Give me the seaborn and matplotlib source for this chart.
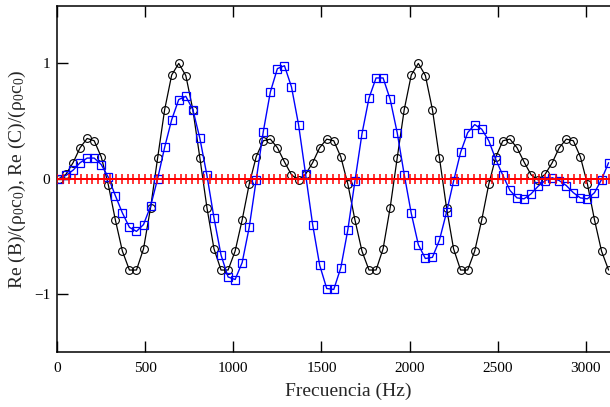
import matplotlib
matplotlib.use("Agg")
import matplotlib.pyplot as plt
import seaborn as sns

# Frequency grid of the black and blue series (Hz)
freq = [10, 50, 90, 130, 170, 210, 250, 290, 330, 370,
        410, 450, 490, 530, 570, 610, 650, 690, 730, 770,
        810, 850, 890, 930, 970, 1010, 1050, 1090, 1130, 1170,
        1210, 1250, 1290, 1330, 1370, 1410, 1450, 1490, 1530, 1570,
        1610, 1650, 1690, 1730, 1770, 1810, 1850, 1890, 1930, 1970,
        2010, 2050, 2090, 2130, 2170, 2210, 2250, 2290, 2330, 2370,
        2410, 2450, 2490, 2530, 2570, 2610, 2650, 2690, 2730, 2770,
        2810, 2850, 2890, 2930, 2970, 3010, 3050, 3090, 3130]

# Re(B)/(rho0 c0)  (black circles)
re_b = [0.00, 0.04, 0.14, 0.27, 0.35, 0.33, 0.19, -0.05, -0.355, -0.626,
        -0.79, -0.79, -0.606, -0.25, 0.18, 0.60, 0.90, 1.00, 0.895, 0.60,
        0.18, -0.25, -0.606, -0.79, -0.79, -0.626, -0.355, -0.046, 0.193, 0.33,
        0.344, 0.27, 0.147, 0.035, -0.01, 0.04, 0.14, 0.27, 0.344, 0.33,
        0.19, -0.046, -0.355, -0.626, -0.79, -0.79, -0.606, -0.25, 0.18, 0.60,
        0.90, 1.00, 0.895, 0.60, 0.18, -0.25, -0.606, -0.79, -0.79, -0.626,
        -0.355, -0.046, 0.19, 0.33, 0.344, 0.27, 0.147, 0.035, -0.01, 0.04,
        0.14, 0.27, 0.344, 0.33, 0.19, -0.046, -0.355, -0.626, -0.79]

# Re(C)/(rho0 c0)  (blue squares)
re_c = [0.00, 0.03, 0.075, 0.14, 0.18, 0.18, 0.124, 0.014, -0.145, -0.295,
        -0.42, -0.455, -0.396, -0.237, 0.00, 0.274, 0.513, 0.687, 0.715, 0.60,
        0.35, 0.03, -0.338, -0.66, -0.85, -0.872, -0.725, -0.42, -0.006, 0.41,
        0.753, 0.955, 0.98, 0.796, 0.47, 0.04, -0.396, -0.748, -0.95, -0.958,
        -0.77, -0.44, -0.02, 0.39, 0.70, 0.874, 0.874, 0.69, 0.40, 0.037,
        -0.30, -0.57, -0.69, -0.68, -0.53, -0.29, -0.02, 0.23, 0.40, 0.47,
        0.43, 0.33, 0.167, 0.03, -0.10, -0.165, -0.173, -0.13, -0.064, -0.015,
        0.01, -0.015, -0.058, -0.12, -0.165, -0.173, -0.12, -0.006, 0.14]

# Red series (plus markers, all at zero)
red_freq = [0, 33, 67, 100, 133, 167, 200, 233, 267, 300, 333, 367,
            400, 433, 467, 500, 533, 567, 600, 633, 667, 700, 733, 767,
            800, 833, 867, 900, 933, 967, 1000, 1033, 1067, 1100, 1133, 1167,
            1200, 1233, 1267, 1300, 1333, 1367, 1400, 1433, 1467, 1500, 1533, 1567,
            1600, 1633, 1667, 1700, 1733, 1767, 1800, 1833, 1867, 1900, 1933, 1967,
            2000, 2033, 2067, 2100, 2133, 2167, 2200, 2233, 2267, 2300, 2333, 2367,
            2400, 2433, 2467, 2500, 2533, 2567, 2600, 2633, 2667, 2700, 2733, 2767,
            2800, 2833, 2867, 2900, 2933, 2967, 3000, 3033, 3067, 3100, 3133, 3167]
red_val = [0.0, 0.0, 0.0, 0.0, 0.0, 0.0, 0.0, 0.0, 0.0, 0.0, 0.0, 0.0,
           0.0, 0.0, 0.0, 0.0, 0.0, 0.0, 0.0, 0.0, 0.0, 0.0, 0.0, 0.0,
           0.0, 0.0, 0.0, 0.0, 0.0, 0.0, 0.0, 0.0, 0.0, 0.0, 0.0, 0.0,
           0.0, 0.0, 0.0, 0.0, 0.0, 0.0, 0.0, 0.0, 0.0, 0.0, 0.0, 0.0,
           0.0, 0.0, 0.0, 0.0, 0.0, 0.0, 0.0, 0.0, 0.0, 0.0, 0.0, 0.0,
           0.0, 0.0, 0.0, 0.0, 0.0, 0.0, 0.0, 0.0, 0.0, 0.0, 0.0, 0.0,
           0.0, 0.0, 0.0, 0.0, 0.0, 0.0, 0.0, 0.0, 0.0, 0.0, 0.0, 0.0,
           0.0, 0.0, 0.0, 0.0, 0.0, 0.0, 0.0, 0.0, 0.0, 0.0, 0.0, 0.0]

x_ticks = [0, 500, 1000, 1500, 2000, 2500, 3000]
y_ticks = [-1, 0, 1]
x_label = "Frecuencia (Hz)"
y_label = r"Re (B)/($\mathregular{ρ_0c_0}$), Re (C)/($\mathregular{ρ_0c_0}$)"

sns.set_style("ticks")
plt.rcParams["font.family"] = ["Liberation Serif", "DejaVu Serif"]
plt.rcParams["mathtext.fontset"] = "custom"
plt.rcParams["mathtext.rm"] = "Liberation Serif"
plt.rcParams["mathtext.it"] = "Liberation Serif:italic"
plt.rcParams["mathtext.bf"] = "Liberation Serif:bold"
plt.rcParams["axes.unicode_minus"] = True

W, H = 610, 407
fig = plt.figure(figsize=(W / 100, H / 100), dpi=100)
x0_px, top_px, bot_px = 57.2, 5.7, 352.0
px_per_hz = 0.17616
xmax = 3300
right_px = x0_px + xmax * px_per_hz
ax = fig.add_axes([x0_px / W, 1 - bot_px / H, (right_px - x0_px) / W, (bot_px - top_px) / H])

sns.lineplot(x=freq, y=re_b, ax=ax, color="black", lw=0.9, marker="o", ms=5.6,
             mfc="none", mec="black", mew=0.8, zorder=3, sort=False)
sns.lineplot(x=freq, y=re_c, ax=ax, color="blue", lw=1.0, marker="s", ms=5.2,
             mfc="none", mec="blue", mew=0.9, zorder=3, sort=False)
sns.lineplot(x=red_freq, y=red_val, ax=ax, color="red", lw=1.4, marker="+", ms=7,
             mec="red", mew=1.1, zorder=4, sort=False)

ax.set_xlim(0, xmax)
ax.set_ylim(-1.5, 1.5)
ax.set_xticks(x_ticks)
ax.set_xticklabels([str(t) for t in x_ticks])
ax.set_yticks(y_ticks)
ax.set_yticklabels(["\u22121", "0", "1"])
ax.tick_params(axis="x", direction="in", length=8, width=1, top=True, bottom=True,
               labelsize=11, pad=7, colors="black")
ax.tick_params(axis="y", direction="in", length=8, width=1, left=True, right=False,
               labelsize=11, pad=5, colors="black")
for s in ["left", "bottom", "top"]:
    ax.spines[s].set_linewidth(1.1)
    ax.spines[s].set_color("black")
ax.spines["right"].set_visible(False)

ax.set_xlabel(x_label, fontsize=14, labelpad=6)
ax.set_ylabel(y_label, fontsize=14, labelpad=4)

fig.savefig("out.png", dpi=100)
